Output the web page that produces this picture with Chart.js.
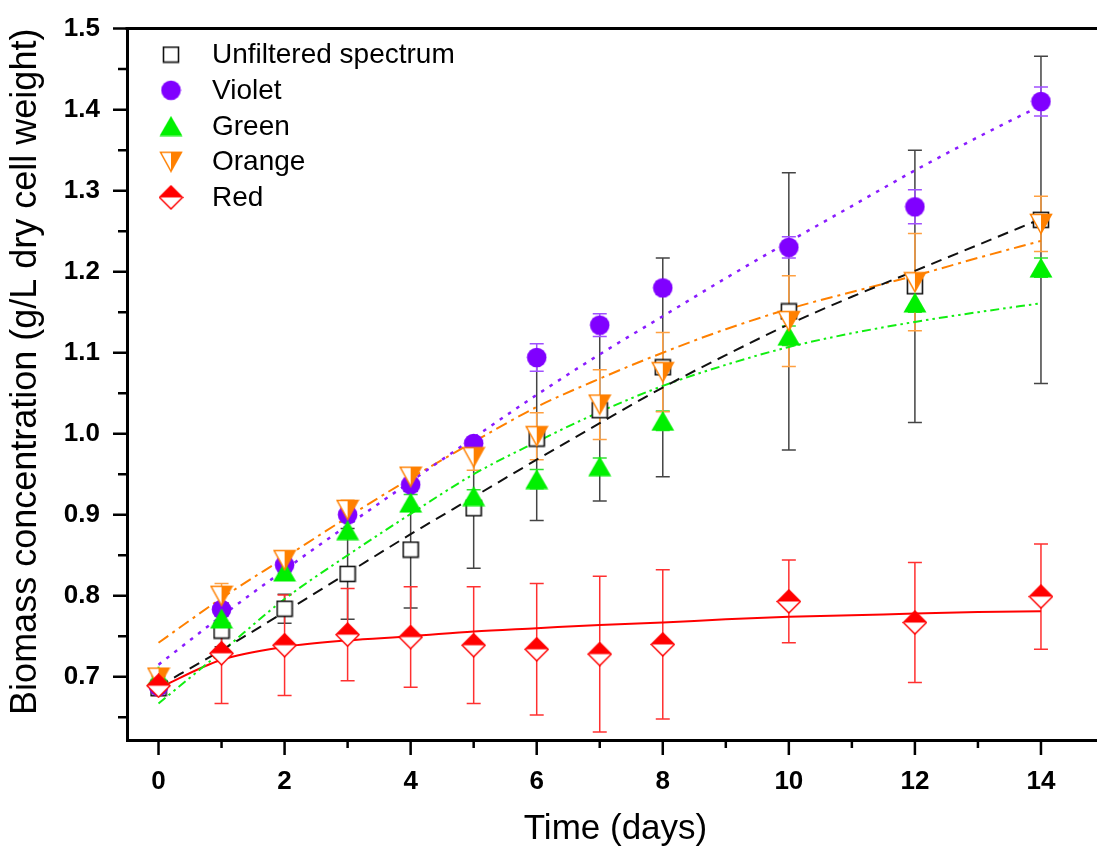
<!DOCTYPE html>
<html>
<head>
<meta charset="utf-8">
<script src="https://cdn.jsdelivr.net/npm/chart.js@4.4.1/dist/chart.umd.min.js"></script>
<style>
  html, body { margin: 0; padding: 0; background: #fff; overflow: hidden; }
  #wrap { width: 1097px; height: 850px; overflow: hidden; position: relative; }
  #chart { position: absolute; left: 0; top: 0; }
</style>
</head>
<body>
<div id="wrap"><canvas id="chart" width="1120" height="850"></canvas></div>
<script>
// measured days
const days = [0, 1, 2, 3, 4, 5, 6, 7, 8, 10, 12, 14];

// biomass (g/L) and standard deviations
const unfiltered = [0.686, 0.757, 0.784, 0.827, 0.857, 0.908, 0.994, 1.029, 1.082, 1.151, 1.182, 1.264];
const unfilteredErr = [0.005, 0.02, 0.018, 0.056, 0.072, 0.074, 0.101, 0.112, 0.135, 0.171, 0.168, 0.202];
const violet = [0.688, 0.783, 0.838, 0.900, 0.937, 0.988, 1.094, 1.134, 1.180, 1.230, 1.280, 1.410];
const violetErr = [0.005, 0.008, 0.008, 0.008, 0.006, 0.005, 0.017, 0.014, 0.008, 0.013, 0.021, 0.018];
const green = [0.701, 0.772, 0.830, 0.881, 0.915, 0.923, 0.944, 0.960, 1.016, 1.121, 1.162, 1.205];
const greenErr = [0.008, 0.01, 0.01, 0.01, 0.01, 0.008, 0.012, 0.01, 0.012, 0.012, 0.012, 0.012];
const orange = [0.699, 0.800, 0.844, 0.906, 0.947, 0.971, 0.997, 1.036, 1.076, 1.139, 1.187, 1.259];
const orangeErr = [0.008, 0.015, 0.01, 0.012, 0.01, 0.016, 0.029, 0.043, 0.049, 0.056, 0.06, 0.034];
const red = [0.689, 0.729, 0.739, 0.752, 0.749, 0.739, 0.734, 0.728, 0.740, 0.793, 0.767, 0.799];
const redErr = [0.012, 0.062, 0.062, 0.057, 0.062, 0.072, 0.081, 0.096, 0.092, 0.051, 0.074, 0.065];

// fitted curves, read at each day
const fitDays = [0, 1, 2, 3, 4, 5, 6, 7, 8, 9, 10, 11, 12, 13, 14];
const fitUnfiltered = [0.688, 0.733, 0.780, 0.828, 0.876, 0.922, 0.968, 1.013, 1.057, 1.097, 1.135, 1.169, 1.201, 1.233, 1.265];
const fitViolet = [0.715, 0.775, 0.832, 0.887, 0.941, 0.995, 1.048, 1.098, 1.145, 1.192, 1.237, 1.281, 1.325, 1.366, 1.405];
const fitGreen = [0.667, 0.731, 0.796, 0.850, 0.901, 0.950, 0.990, 1.027, 1.059, 1.085, 1.107, 1.124, 1.138, 1.150, 1.161];
const fitOrange = [0.742, 0.797, 0.847, 0.897, 0.945, 0.990, 1.033, 1.068, 1.100, 1.129, 1.154, 1.175, 1.195, 1.217, 1.238];
const fitRed = [0.686, 0.721, 0.737, 0.745, 0.750, 0.756, 0.760, 0.764, 0.767, 0.771, 0.774, 0.776, 0.778, 0.780, 0.781];

const seriesNames = ["Unfiltered spectrum", "Violet", "Green", "Orange", "Red"];
const xTicks = [0, 1, 2, 3, 4, 5, 6, 7, 8, 9, 10, 11, 12, 13, 14, 15];
const yTicks = [0.65, 0.7, 0.75, 0.8, 0.85, 0.9, 0.95, 1.0, 1.05, 1.1, 1.15, 1.2, 1.25, 1.3, 1.35, 1.4, 1.45, 1.5];

const FONT = '"Liberation Sans", Arial, sans-serif';
Chart.defaults.font.family = FONT;
Chart.defaults.color = "#000";

// small canvases used as point styles
function marker(w, h, draw) {
  const c = document.createElement("canvas");
  c.width = w;
  c.height = h;
  draw(c.getContext("2d"));
  return c;
}

const squareMark = marker(18, 18, (g) => {
  g.fillStyle = "#fff";
  g.fillRect(1.5, 1.5, 15, 15);
  g.strokeStyle = "#111";
  g.lineWidth = 1.6;
  g.strokeRect(1.5, 1.5, 15, 15);
});

const circleMark = marker(21, 21, (g) => {
  g.fillStyle = "#8000ff";
  g.beginPath();
  g.arc(10.5, 10.5, 9.8, 0, Math.PI * 2);
  g.fill();
});

const triMark = marker(24, 21, (g) => {
  g.fillStyle = "#00f000";
  g.beginPath();
  g.moveTo(12, 0.5);
  g.lineTo(23.5, 20.5);
  g.lineTo(0.5, 20.5);
  g.closePath();
  g.fill();
});

const downTriMark = marker(24, 22, (g) => {
  const outline = () => {
    g.beginPath();
    g.moveTo(1.5, 1.5);
    g.lineTo(22.5, 1.5);
    g.lineTo(12, 20.5);
    g.closePath();
  };
  outline();
  g.fillStyle = "#fff";
  g.fill();
  g.beginPath();
  g.moveTo(12, 1.5);
  g.lineTo(22.5, 1.5);
  g.lineTo(12, 20.5);
  g.closePath();
  g.fillStyle = "#ff8000";
  g.fill();
  outline();
  g.strokeStyle = "#ff8000";
  g.lineWidth = 1.5;
  g.stroke();
});

const diamondMark = marker(25, 25, (g) => {
  const outline = () => {
    g.beginPath();
    g.moveTo(12.5, 1);
    g.lineTo(24, 12.5);
    g.lineTo(12.5, 24);
    g.lineTo(1, 12.5);
    g.closePath();
  };
  outline();
  g.fillStyle = "#fff";
  g.fill();
  g.beginPath();
  g.moveTo(12.5, 1);
  g.lineTo(24, 12.5);
  g.lineTo(1, 12.5);
  g.closePath();
  g.fillStyle = "#ff0000";
  g.fill();
  outline();
  g.strokeStyle = "#ff0000";
  g.lineWidth = 1.5;
  g.stroke();
});

const markers = [squareMark, circleMark, triMark, downTriMark, diamondMark];

function pts(xs, ys) {
  return xs.map((x, i) => ({ x, y: ys[i] }));
}

// later series sit on top, like the original plot
function dataSet(label, ys, errs, mark, errColor, order) {
  return {
    type: "line",
    label,
    order,
    data: pts(days, ys),
    errors: errs,
    errColor,
    showLine: false,
    pointStyle: mark,
    pointRadius: 8,
    pointHoverRadius: 8,
  };
}

function fitSet(ys, color, dash, width) {
  return {
    type: "line",
    label: "fit",
    order: 10,
    data: pts(fitDays, ys),
    borderColor: color,
    borderWidth: width,
    borderDash: dash,
    pointRadius: 0,
    cubicInterpolationMode: "monotone",
    fill: false,
  };
}

// vertical error bars with caps, drawn under the symbols
const errorBars = {
  id: "errorBars",
  beforeDatasetsDraw(chart) {
    const { ctx } = chart;
    const yScale = chart.scales.y;
    chart.data.datasets.forEach((ds, di) => {
      if (!ds.errors) return;
      const meta = chart.getDatasetMeta(di);
      ctx.save();
      ctx.strokeStyle = ds.errColor;
      ctx.lineWidth = 1.5;
      meta.data.forEach((el, i) => {
        const v = ds.data[i].y;
        const e = ds.errors[i];
        const top = yScale.getPixelForValue(v + e);
        const bot = yScale.getPixelForValue(v - e);
        ctx.beginPath();
        ctx.moveTo(el.x, top);
        ctx.lineTo(el.x, bot);
        ctx.moveTo(el.x - 7, top);
        ctx.lineTo(el.x + 7, top);
        ctx.moveTo(el.x - 7, bot);
        ctx.lineTo(el.x + 7, bot);
        ctx.stroke();
      });
      ctx.restore();
    });
  },
};

// tick marks (major + minor), top frame line, and the legend box
const frame = {
  id: "frame",
  afterDraw(chart) {
    const { ctx, chartArea } = chart;
    const xs = chart.scales.x;
    const ys = chart.scales.y;
    ctx.save();
    ctx.strokeStyle = "#000";
    ctx.lineWidth = 2.5;
    ctx.beginPath();
    xTicks.forEach((t) => {
      const px = xs.getPixelForValue(t);
      const len = t % 2 === 0 ? 15 : 8;
      ctx.moveTo(px, chartArea.bottom);
      ctx.lineTo(px, chartArea.bottom + len);
    });
    yTicks.forEach((t) => {
      const py = ys.getPixelForValue(t);
      const major = Math.abs(t * 10 - Math.round(t * 10)) < 1e-6;
      ctx.moveTo(chartArea.left, py);
      ctx.lineTo(chartArea.left - (major ? 14 : 9), py);
    });
    ctx.stroke();
    ctx.lineWidth = 3;
    ctx.beginPath();
    ctx.moveTo(chartArea.left - 1.5, chartArea.top);
    ctx.lineTo(chartArea.right, chartArea.top);
    ctx.lineTo(chartArea.right, chartArea.bottom);
    ctx.stroke();

    // legend
    const lx = chartArea.left + 44;
    const ly0 = chartArea.top + 26;
    const step = 35.7;
    ctx.font = "28px " + FONT;
    ctx.fillStyle = "#000";
    ctx.textBaseline = "middle";
    seriesNames.forEach((name, i) => {
      const m = markers[i];
      const y = ly0 + i * step;
      ctx.drawImage(m, lx - m.width / 2, y - m.height / 2);
      ctx.fillText(name, lx + 41, y + 1);
    });
    ctx.restore();
  },
};

const chart = new Chart(document.getElementById("chart"), {
  data: {
    datasets: [
      dataSet(seriesNames[0], unfiltered, unfilteredErr, squareMark, "#444", 5),
      dataSet(seriesNames[1], violet, violetErr, circleMark, "#a050ff", 4),
      dataSet(seriesNames[2], green, greenErr, triMark, "#33e033", 3),
      dataSet(seriesNames[3], orange, orangeErr, downTriMark, "#ffa040", 2),
      dataSet(seriesNames[4], red, redErr, diamondMark, "#ff3030", 1),
      fitSet(fitUnfiltered, "#111", [11, 7], 2),
      fitSet(fitViolet, "#8a1cff", [3.5, 6.5], 2.5),
      fitSet(fitGreen, "#11ee11", [9, 4, 2.5, 4, 2.5, 4], 2),
      fitSet(fitOrange, "#ff8000", [12, 5, 3, 5], 2),
      fitSet(fitRed, "#ff0000", [], 2),
    ],
  },
  options: {
    responsive: false,
    animation: false,
    devicePixelRatio: 1,
    layout: { padding: { top: 27, right: 16, left: 0, bottom: 0 } },
    plugins: {
      legend: { display: false },
      tooltip: { enabled: false },
    },
    scales: {
      x: {
        type: "linear",
        position: "bottom",
        min: -0.5,
        max: 15,
        afterBuildTicks: (scale) => {
          scale.ticks = xTicks.map((v) => ({ value: v }));
        },
        afterFit: (scale) => {
          scale.height = 110;
        },
        ticks: {
          autoSkip: false,
          maxRotation: 0,
          padding: 11,
          font: { size: 26, weight: "bold" },
          callback: (v) => (v % 2 === 0 && v <= 14 ? String(v) : ""),
        },
        grid: { drawOnChartArea: false, tickLength: 15, color: "rgba(0,0,0,0)" },
        border: { display: true, color: "#000", width: 3 },
        title: {
          display: true,
          text: "Time (days)",
          font: { size: 35 },
          padding: { top: 0, bottom: 0 },
        },
      },
      y: {
        type: "linear",
        min: 0.622,
        max: 1.5,
        afterBuildTicks: (scale) => {
          scale.ticks = yTicks.map((v) => ({ value: v }));
        },
        afterFit: (scale) => {
          scale.width = 127;
        },
        ticks: {
          padding: 13,
          font: { size: 26, weight: "bold" },
          callback: (v) => {
            const major = Math.abs(v * 10 - Math.round(v * 10)) < 1e-6;
            return major && v >= 0.7 ? v.toFixed(1) : "";
          },
        },
        grid: { drawOnChartArea: false, tickLength: 14, color: "rgba(0,0,0,0)" },
        border: { display: true, color: "#000", width: 3 },
        title: {
          display: true,
          text: "Biomass concentration (g/L dry cell weight)",
          align: "end",
          font: { size: 36 },
          padding: { top: 4, bottom: 0 },
        },
      },
    },
  },
  plugins: [errorBars, frame],
});
</script>
</body>
</html>
